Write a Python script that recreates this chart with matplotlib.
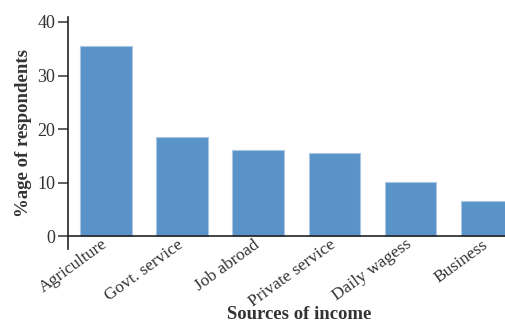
import numpy as np
import matplotlib.pyplot as plt
from matplotlib.transforms import ScaledTranslation

# Data
sources = ['Agriculture', 'Govt. service', 'Job abroad', 'Private service', 'Daily wagess', 'Business']
percent = [35.5, 18.5, 16.1, 15.5, 10.1, 6.5]
yticks = [0, 10, 20, 30, 40]

plt.rcParams['font.family'] = ['Liberation Serif', 'DejaVu Serif']
text_color = '#333333'

fig = plt.figure(figsize=(5.05, 3.22), dpi=100)
ax = fig.add_axes([68 / 505, 73 / 322, 1 - 68 / 505, (249 - 16.6) / 322])

x = np.arange(len(sources))
ax.bar(x, percent, width=0.68, color='#5a93c8', edgecolor='#a9c6e4', linewidth=0.8, zorder=2)
ax.axhline(0, color='#222222', linewidth=1.2, zorder=3)

ax.set_xlim(-0.5, 5.24)
ax.set_ylim(-2.4, 41)
ax.set_yticks(yticks)
ax.set_xticks(x)
ax.set_xticklabels(sources, rotation=36, ha='right', rotation_mode='anchor', fontsize=12.5, color=text_color)
ax.tick_params(axis='x', length=0, pad=-9)
ax.tick_params(axis='y', length=7, width=1.2, color='#444444', labelsize=13, labelcolor=text_color, pad=2)

# nudge the rotated labels a little to the left, as in the reference
shift = ScaledTranslation(-5 / 100, 0, fig.dpi_scale_trans)
for lbl in ax.get_xticklabels():
    lbl.set_transform(lbl.get_transform() + shift)

for s in ['top', 'right', 'bottom']:
    ax.spines[s].set_visible(False)
ax.spines['left'].set_color('#222222')
ax.spines['left'].set_linewidth(1.2)

ax.set_ylabel('%age of respondents', fontsize=13.5, fontweight='bold', color=text_color, labelpad=4)
ax.set_xlabel('Sources of income', fontsize=13.5, fontweight='bold', color=text_color, va='center')
ax.xaxis.set_label_coords(0.53, -0.28)

fig.savefig('out.png', dpi=100)
